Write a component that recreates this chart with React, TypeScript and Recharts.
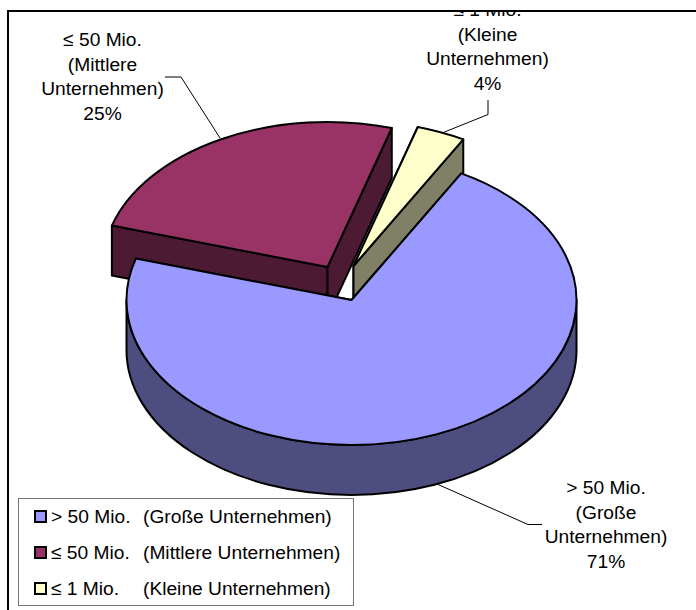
import React from "react";
import { PieChart, Pie, Cell, Legend } from "recharts";

// Data, in drawing order: the slices at the back first, the big front slice last.
const categories = ["≤ 50 Mio.", "≤ 1 Mio.", "> 50 Mio."];
const classNames = ["(Mittlere Unternehmen)", "(Kleine Unternehmen)", "(Große Unternehmen)"];
const shares = [25, 3.5, 71.5];
const labelLines = [
  ["≤ 50 Mio.", "(Mittlere", "Unternehmen)", "25%"],
  ["≤ 1 Mio.", "(Kleine", "Unternehmen)", "4%"],
  ["> 50 Mio.", "(Große", "Unternehmen)", "71%"],
];
const legendOrder = [2, 0, 1];
const topColors = ["#993366", "#FFFFCC", "#9999FF"];
const wallColors = ["#4D1A33", "#808066", "#4D4D80"];

// Layout and style
const FONT = '"Liberation Sans", Arial, sans-serif';
const FONT_SIZE = 19.2;
const CX = 351.5;
const CY = 300;
const RX = 225;
const RY = 145;
const DEPTH = 50;
const explode = [
  { dx: -24, dy: -33 },
  { dx: 2, dy: -34 },
  { dx: 0, dy: 0 },
];
const labelBoxes = [
  { x: 102.5, y: 46, line: "M165 77 L181 77 L220 138" },
  { x: 487.5, y: 16, line: "M488 100 L488 114.5 L442 133" },
  { x: 606, y: 494, line: "M437 484 L528 524.5 L542 524.5" },
];

const rad = (a: number) => (a * Math.PI) / 180;

function SliceShape(props: any) {
  const { cx, cy, outerRadius, startAngle, endAngle, index } = props;
  const squash = RY / RX;
  const off = explode[index];
  const ox = cx + off.dx;
  const oy = cy + off.dy;
  const rx = outerRadius;
  const ry = outerRadius * squash;
  const pt = (a: number, d = 0) => [ox + rx * Math.cos(rad(a)), oy - ry * Math.sin(rad(a)) + d];
  const hi = Math.max(startAngle, endAngle);
  const lo = Math.min(startAngle, endAngle);
  const large = hi - lo > 180 ? 1 : 0;
  const [x1, y1] = pt(hi);
  const [x2, y2] = pt(lo);
  const top = `M${ox} ${oy} L${x1} ${y1} A${rx} ${ry} 0 ${large} 1 ${x2} ${y2} Z`;
  const face = (a: number) => {
    const [x, y] = pt(a);
    return `M${ox} ${oy} L${x} ${y} L${x} ${y + DEPTH} L${ox} ${oy + DEPTH} Z`;
  };
  // Outer wall: only the part of the rim on the near half of the ellipse.
  let wall: string | null = null;
  const from = Math.min(hi, 0);
  const to = Math.max(lo, -180);
  if (from > to) {
    const [ax, ay] = pt(from);
    const [bx, by] = pt(to);
    wall = `M${ax} ${ay} A${rx} ${ry} 0 0 1 ${bx} ${by} L${bx} ${by + DEPTH} A${rx} ${ry} 0 0 0 ${ax} ${ay + DEPTH} Z`;
  }
  const stroke = { stroke: "#000", strokeWidth: 2, strokeLinejoin: "round" as const };
  return (
    <g>
      <path d={face(hi)} fill={wallColors[index]} {...stroke} />
      <path d={face(lo)} fill={wallColors[index]} {...stroke} />
      {wall && <path d={wall} fill={wallColors[index]} {...stroke} />}
      <path d={top} fill={topColors[index]} {...stroke} />
    </g>
  );
}

function SliceLabel(props: any) {
  const { index } = props;
  const box = labelBoxes[index];
  return (
    <g clipPath="url(#frameClip)">
      <path d={box.line} fill="none" stroke="#000" strokeWidth={1} />
      {labelLines[index].map((t, i) => (
        <text
          key={i}
          x={box.x}
          y={box.y + [0, 25, 49, 74][i]}
          textAnchor="middle"
          fontFamily={FONT}
          fontSize={FONT_SIZE}
          fill="#000"
          stroke="none"
        >
          {t}
        </text>
      ))}
    </g>
  );
}

function LegendBox() {
  return (
    <div
      style={{
        position: "relative",
        width: 336,
        height: 108,
        boxSizing: "border-box",
        border: "1px solid #777",
        background: "#fff",
        fontFamily: FONT,
        fontSize: FONT_SIZE,
        color: "#000",
      }}
    >
      {legendOrder.map((k, i) => (
        <div key={k}>
          <div
            style={{
              position: "absolute",
              left: 15,
              top: 11 + i * 36,
              width: 13,
              height: 13,
              boxSizing: "border-box",
              border: "2px solid #000",
              background: topColors[k],
            }}
          />
          <span style={{ position: "absolute", left: 32, top: 7 + i * 36, lineHeight: "21px", whiteSpace: "nowrap" }}>
            {categories[k]}
          </span>
          <span style={{ position: "absolute", left: 124, top: 7 + i * 36, lineHeight: "21px", whiteSpace: "nowrap" }}>
            {classNames[k]}
          </span>
        </div>
      ))}
    </div>
  );
}

const tableRows = categories.map((name, i) => ({ name, value: shares[i] }));

export default function App() {
  return (
    <div style={{ position: "absolute", left: 0, top: 0, width: 696, height: 610, background: "#fff", overflow: "hidden" }}>
      <PieChart width={696} height={610} margin={{ top: 0, right: 0, bottom: 0, left: 0 }}>
        <defs>
          <clipPath id="frameClip">
            <rect x={0} y={12} width={696} height={598} />
          </clipPath>
        </defs>
        <Pie
          data={tableRows}
          dataKey="value"
          nameKey="name"
          cx={CX}
          cy={CY}
          innerRadius={0}
          outerRadius={RX}
          startAngle={163.4}
          endAngle={-196.6}
          paddingAngle={0}
          stroke="none"
          shape={SliceShape}
          label={SliceLabel}
          labelLine={false}
          isAnimationActive={false}
        >
          {tableRows.map((r, i) => (
            <Cell key={r.name} fill={topColors[i]} />
          ))}
        </Pie>
        <Legend
          content={<LegendBox />}
          layout="vertical"
          wrapperStyle={{ position: "absolute", left: 18, top: 498, width: 336, height: 108, bottom: "auto", right: "auto" }}
        />
      </PieChart>
      <div style={{ position: "absolute", left: 7, top: 10, width: 689, height: 2, background: "#000" }} />
      <div style={{ position: "absolute", left: 7, top: 10, width: 2, height: 600, background: "#000" }} />
    </div>
  );
}
